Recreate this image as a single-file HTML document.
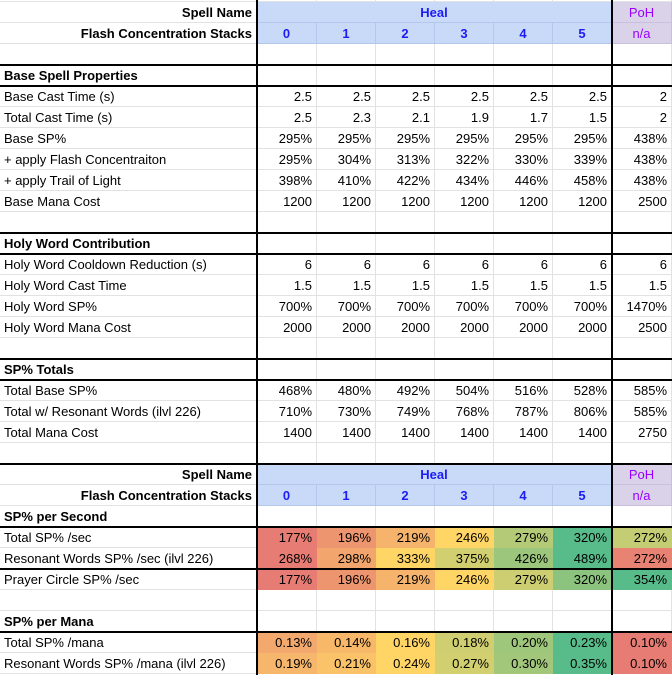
<!DOCTYPE html>
<html><head><meta charset="utf-8">
<style>
body{margin:0;background:#fff;width:672px;height:675px;overflow:hidden;position:relative;font-family:"Liberation Sans",Arial,sans-serif;font-size:13px;color:#000}
.c{position:absolute;box-sizing:border-box;border-right:1px solid #e2e2e2;border-bottom:1px solid #e2e2e2;height:21px;line-height:22px;white-space:nowrap;overflow:hidden;padding:0 4px}
.r{text-align:right}.b{font-weight:bold}.ctr{text-align:center}
.hl{position:absolute;background:#000;height:1.5px;left:0;width:672px}
.vl{position:absolute;background:#000;width:2px;top:0;height:675px}
</style></head><body>
<div id="sheet"></div>
<script>
const colX=[0,257,317,376,435,494,553,612,672];
const TOP=2,RH=21;
const stacks=["0","1","2","3","4","5"];
const secRows=[
 ["h","Spell Name"],["s","Flash Concentration Stacks"],["e"],
 ["t","Base Spell Properties"],
 ["d","Base Cast Time (s)",["2.5","2.5","2.5","2.5","2.5","2.5","2"]],
 ["d","Total Cast Time (s)",["2.5","2.3","2.1","1.9","1.7","1.5","2"]],
 ["d","Base SP%",["295%","295%","295%","295%","295%","295%","438%"]],
 ["d","+ apply Flash Concentraiton",["295%","304%","313%","322%","330%","339%","438%"]],
 ["d","+ apply Trail of Light",["398%","410%","422%","434%","446%","458%","438%"]],
 ["d","Base Mana Cost",["1200","1200","1200","1200","1200","1200","2500"]],
 ["e"],
 ["t","Holy Word Contribution"],
 ["d","Holy Word Cooldown Reduction (s)",["6","6","6","6","6","6","6"]],
 ["d","Holy Word Cast Time",["1.5","1.5","1.5","1.5","1.5","1.5","1.5"]],
 ["d","Holy Word SP%",["700%","700%","700%","700%","700%","700%","1470%"]],
 ["d","Holy Word Mana Cost",["2000","2000","2000","2000","2000","2000","2500"]],
 ["e"],
 ["t","SP% Totals"],
 ["d","Total Base SP%",["468%","480%","492%","504%","516%","528%","585%"]],
 ["d","Total w/ Resonant Words (ilvl 226)",["710%","730%","749%","768%","787%","806%","585%"]],
 ["d","Total Mana Cost",["1400","1400","1400","1400","1400","1400","2750"]],
 ["e"],
 ["h","Spell Name"],["s","Flash Concentration Stacks"],
 ["t","SP% per Second"],
 ["m","Total SP% /sec","sec1"],
 ["m","Resonant Words SP% /sec  (ilvl 226)","sec2"],
 ["m","Prayer Circle SP% /sec","sec3"],
 ["e"],
 ["t","SP% per Mana"],
 ["m","Total SP% /mana","mana1"],
 ["m","Resonant Words SP% /mana  (ilvl 226)","mana2"]
];
const sec1=[177,196,219,246,279,320,272];
const sec2=[268,298,333,375,426,489,272];
const sec3=[177,196,219,246,279,320,354];
const mana1=[0.13,0.14,0.16,0.18,0.20,0.23,0.10];
const mana2=[0.19,0.21,0.24,0.27,0.30,0.35,0.10];
const heat={sec1,sec2,sec3,mana1,mana2};
const blackLines=[65,86,233,254,359,380,464,527,569,632];

const S=document.getElementById('sheet');
function cell(x,y,w,txt,cls,name){
  const d=document.createElement('div');
  d.className='c '+(cls||'');
  d.style.left=x+'px';d.style.top=y+'px';d.style.width=w+'px';
  d.textContent=txt||'';
  
  
  S.appendChild(d);return d;
}
function mix(a,b,t){return a.map((v,i)=>Math.round(v+(b[i]-v)*t));}
const RED=[230,124,115],YEL=[255,214,102],GRN=[87,187,138];
function heatColor(v,arr){
  const s=[...arr].sort((a,b)=>a-b);
  const mn=s[0],mx=s[s.length-1],md=s[Math.floor(s.length/2)];
  let c;
  if(v<=md)c=mix(RED,YEL,md===mn?1:(v-mn)/(md-mn));else c=mix(YEL,GRN,(v-md)/(mx-md));
  return 'rgb('+c.join(',')+')';
}
for(let c=0;c<8;c++)cell(colX[c],TOP-RH,colX[c+1]-colX[c],'','','blank-cell');
secRows.forEach((row,i)=>{
  const y=TOP+i*RH,type=row[0];
  if(type==='h'){
    cell(0,y,257,row[1],'r b','spell-name-label');
    const h=cell(257,y,355,'Heal','ctr b','heal-header');
    h.style.background='#c9daf8';h.style.color='#1c1cf4';h.style.borderColor='#b4c8ec';
    const p=cell(612,y,60,'PoH','ctr','poh-header');
    p.style.background='#d9d2e9';p.style.color='#9900ff';p.style.borderColor='#c9c0dd';
    return;
  }
  if(type==='s'){
    cell(0,y,257,row[1],'r b','stacks-label');
    stacks.forEach((s,k)=>{
      const d=cell(colX[k+1],y,colX[k+2]-colX[k+1],s,'ctr b','stack-'+s);
      d.style.background='#c9daf8';d.style.color='#1c1cf4';d.style.borderColor='#b4c8ec';
    });
    const p=cell(612,y,60,'n/a','ctr','poh-stacks');
    p.style.background='#d9d2e9';p.style.color='#9900ff';p.style.borderColor='#c9c0dd';
    return;
  }
  if(type==='e'||type==='t'){
    cell(0,y,257,type==='t'?row[1]:'',type==='t'?'b':'',type==='t'?'section-title':'blank-cell');
    for(let c=1;c<8;c++)cell(colX[c],y,colX[c+1]-colX[c],'','','blank-cell');
    return;
  }
  cell(0,y,257,row[1],'','row-label');
  if(type==='d'){
    row[2].forEach((v,k)=>cell(colX[k+1],y,colX[k+2]-colX[k+1],v,'r','value-cell'));
  } else {
    const arr=heat[row[2]],isMana=row[2].startsWith('mana');
    arr.forEach((v,k)=>{
      const txt=isMana?v.toFixed(2)+'%':v+'%';
      const d=cell(colX[k+1],y,colX[k+2]-colX[k+1],txt,'r','heat-cell');
      const col=heatColor(v,arr);
      d.style.background=col;d.style.borderColor=col;
    });
  }
});
blackLines.forEach(y=>{
  const l=document.createElement('div');l.className='hl';l.style.top=(y-1)+'px';
  
  
  S.appendChild(l);
});
[256,611].forEach(x=>{
  const l=document.createElement('div');l.className='vl';l.style.left=x+'px';
  
  
  S.appendChild(l);
});
</script>
</body></html>
